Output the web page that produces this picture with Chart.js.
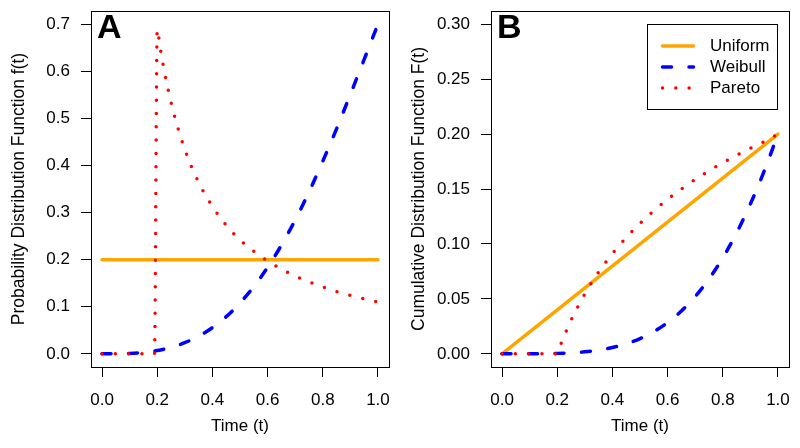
<!DOCTYPE html>
<html>
<head>
<meta charset="utf-8">
<script src="https://cdn.jsdelivr.net/npm/chart.js@4.4.1/dist/chart.umd.min.js"></script>
<style>
  html, body { margin: 0; padding: 0; background: #fff; }
  #wrap { position: relative; width: 800px; height: 448px; }
  canvas { position: absolute; top: 0; }
  #pdfChart { left: 0; }
  #cdfChart { left: 400px; }
</style>
</head>
<body>
<div id="wrap">
  <canvas id="pdfChart" width="400" height="448"></canvas>
  <canvas id="cdfChart" width="400" height="448"></canvas>
</div>
<script>
// values
const uniformTime = [0, 1];
const uniformPdf = [0.2, 0.2];
const uniformCdf = [0, 0.2];

const timeGrid = [0, 0.05, 0.1, 0.15, 0.2, 0.25, 0.3, 0.35, 0.4, 0.45, 0.5,
                  0.55, 0.6, 0.65, 0.7, 0.75, 0.8, 0.85, 0.9, 0.95, 1.0];
const weibullPdf = [0, 0.0001, 0.0009, 0.003, 0.007, 0.0136, 0.0236, 0.0374, 0.0556, 0.0789, 0.108,
                    0.1425, 0.1835, 0.2307, 0.284, 0.3437, 0.409, 0.4778, 0.551, 0.6251, 0.70];
const weibullCdf = [0, 0, 0.00002, 0.0001, 0.0004, 0.0009, 0.0018, 0.0033, 0.0057, 0.0091, 0.0138,
                    0.0202, 0.0285, 0.039, 0.0521, 0.0681, 0.0873, 0.11, 0.1363, 0.1662, 0.2];

const paretoTime = [0, 0.19, 0.2, 0.21, 0.22, 0.25, 0.3, 0.35, 0.4, 0.45, 0.5,
                    0.55, 0.6, 0.65, 0.7, 0.75, 0.8, 0.85, 0.9, 0.95, 1.0];
const paretoPdf = [0, 0, 0.689, 0.652, 0.618, 0.534, 0.434, 0.364, 0.313, 0.273, 0.242,
                   0.218, 0.197, 0.18, 0.165, 0.153, 0.142, 0.132, 0.124, 0.117, 0.11];
const paretoCdf = [0, 0, 0, 0.0068, 0.0132, 0.0304, 0.0545, 0.0744, 0.0912, 0.1058, 0.1187,
                   0.1302, 0.1406, 0.15, 0.1586, 0.1665, 0.1739, 0.1807, 0.1871, 0.1931, 0.2];

const xTicks = [0, 0.2, 0.4, 0.6, 0.8, 1.0];
const pdfTicks = [0, 0.1, 0.2, 0.3, 0.4, 0.5, 0.6, 0.7];
const cdfTicks = [0, 0.05, 0.1, 0.15, 0.2, 0.25, 0.3];

const FONT = "'Liberation Sans', Arial, Helvetica, sans-serif";

const toPoints = (xs, ys) => xs.map((x, i) => ({ x: x, y: ys[i] }));

function makeDatasets(uniform, weibull, pareto) {
    const common = {
        pointRadius: 0,
        borderWidth: 3.5,
        borderCapStyle: "round",
        borderJoinStyle: "round",
        cubicInterpolationMode: "monotone",
        fill: false,
    };
    return [
        { ...common, label: "Uniform", data: toPoints(uniformTime, uniform), borderColor: "#FFA500", order: 3 },
        { ...common, label: "Weibull", data: toPoints(timeGrid, weibull), borderColor: "#0000FF", borderDash: [9, 17.5], order: 2 },
        { ...common, label: "Pareto", data: toPoints(paretoTime, pareto), borderColor: "#FF0000", borderDash: [0, 13.3], order: 1 },
    ];
}

// R style frame, panel letter and boxed legend
const rFrame = {
    id: "rFrame",
    afterDraw(chart, args, opts) {
        const { ctx, chartArea: a } = chart;
        ctx.save();
        ctx.strokeStyle = "#000";
        ctx.lineWidth = 1;
        ctx.setLineDash([]);
        ctx.strokeRect(Math.round(a.left) + 0.5, Math.round(a.top) + 0.5,
                       Math.round(a.right - a.left), Math.round(a.bottom - a.top));

        ctx.fillStyle = "#000";
        ctx.font = "bold 34px " + FONT;
        ctx.textBaseline = "alphabetic";
        ctx.textAlign = "left";
        ctx.fillText(opts.letter, a.left + 6, a.top + 27);

        if (opts.legend) {
            const L = opts.legend;
            ctx.strokeRect(L.x + 0.5, L.y + 0.5, L.w, L.h);
            ctx.font = "17px " + FONT;
            ctx.textBaseline = "middle";
            chart.data.datasets.forEach((ds, i) => {
                const y = L.y + L.rowTop + i * L.rowGap;
                ctx.beginPath();
                ctx.strokeStyle = ds.borderColor;
                ctx.lineWidth = ds.borderWidth;
                ctx.lineCap = "round";
                ctx.setLineDash(ds.borderDash || []);
                ctx.moveTo(L.x + L.lineStart, y);
                ctx.lineTo(L.x + L.lineEnd, y);
                ctx.stroke();
                ctx.setLineDash([]);
                ctx.fillStyle = "#000";
                ctx.fillText(ds.label, L.x + L.textX, y);
            });
        }
        ctx.restore();
    },
};

function makeChart(id, datasets, yMin, yMax, yTicks, decimals, yTitle, letter, legend) {
    const ctx = document.getElementById(id).getContext("2d");
    return new Chart(ctx, {
        type: "line",
        data: { datasets: datasets },
        plugins: [rFrame],
        options: {
            responsive: false,
            animation: false,
            layout: { padding: { left: 0, right: 11, top: 11, bottom: 0 } },
            plugins: {
                legend: { display: false },
                tooltip: { enabled: false },
                rFrame: { letter: letter, legend: legend },
            },
            scales: {
                x: {
                    type: "linear",
                    min: -0.04,
                    max: 1.04,
                    afterBuildTicks: (s) => { s.ticks = xTicks.map((v) => ({ value: v })); },
                    afterFit: (s) => { s.height = 81; s.paddingLeft = 0; s.paddingRight = 0; },
                    border: { display: false },
                    grid: { drawOnChartArea: false, drawTicks: true, tickLength: 10, color: "#000", lineWidth: 1 },
                    ticks: {
                        color: "#000",
                        padding: 13,
                        maxRotation: 0,
                        font: { family: FONT, size: 17 },
                        callback: (v) => Number(v).toFixed(1),
                    },
                    title: {
                        display: true,
                        text: "Time (t)",
                        color: "#000",
                        font: { family: FONT, size: 17 },
                        padding: { top: 0, bottom: 11 },
                    },
                },
                y: {
                    min: yMin,
                    max: yMax,
                    afterBuildTicks: (s) => { s.ticks = yTicks.map((v) => ({ value: v })); },
                    afterFit: (s) => { s.width = 91; s.paddingTop = 0; s.paddingBottom = 0; },
                    border: { display: false },
                    grid: { drawOnChartArea: false, drawTicks: true, tickLength: 10, color: "#000", lineWidth: 1 },
                    ticks: {
                        color: "#000",
                        padding: 11,
                        font: { family: FONT, size: 17 },
                        callback: (v) => Number(v).toFixed(decimals),
                    },
                    title: {
                        display: true,
                        text: yTitle,
                        color: "#000",
                        font: { family: FONT, size: 17.5 },
                        padding: { top: 9, bottom: 0 },
                    },
                },
            },
        },
    });
}

makeChart("pdfChart", makeDatasets(uniformPdf, weibullPdf, paretoPdf),
          -0.028, 0.728, pdfTicks, 1, "Probability Distribution Function f(t)", "A", null);

makeChart("cdfChart", makeDatasets(uniformCdf, weibullCdf, paretoCdf),
          -0.012, 0.312, cdfTicks, 2, "Cumulative Distribution Function F(t)", "B",
          { x: 247, y: 24, w: 130, h: 85, rowTop: 22, rowGap: 21, lineStart: 15.5, lineEnd: 46.5, textX: 63 });
</script>
</body>
</html>
